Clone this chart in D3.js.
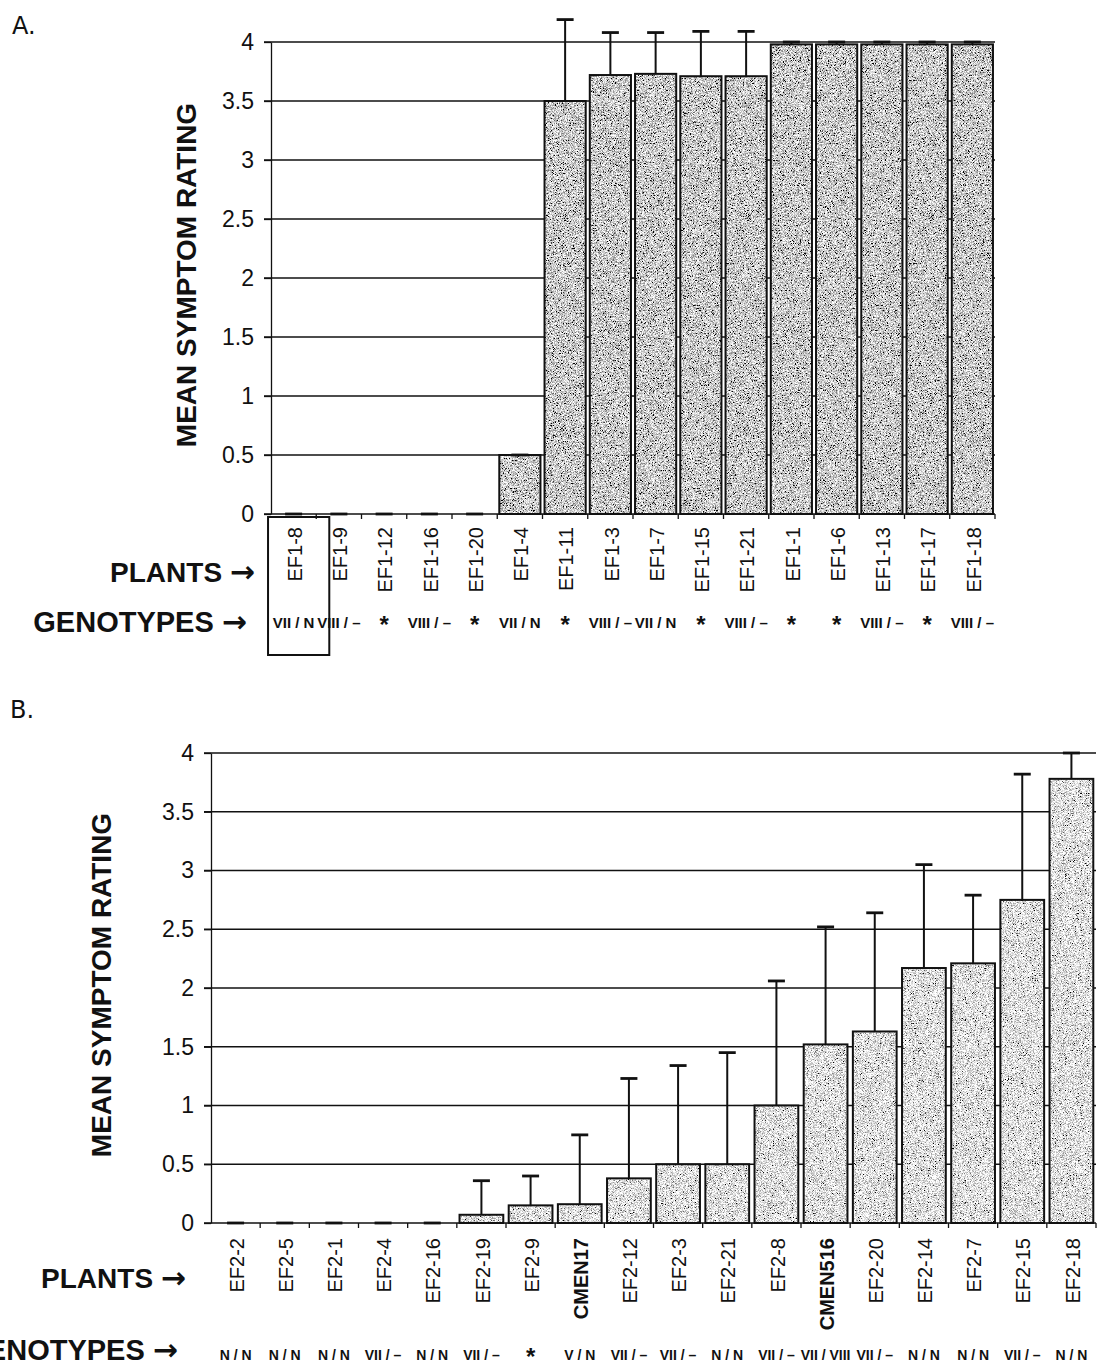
<!DOCTYPE html>
<html>
<head>
<meta charset="utf-8">
<script src="https://cdn.jsdelivr.net/npm/d3@7"></script>
<style>
  body { margin: 0; background: #fff; }
  svg { display: block; }
</style>
</head>
<body>
<script>
// Panel A data
const plantsA = ["EF1-8", "EF1-9", "EF1-12", "EF1-16", "EF1-20", "EF1-4", "EF1-11", "EF1-3",
    "EF1-7", "EF1-15", "EF1-21", "EF1-1", "EF1-6", "EF1-13", "EF1-17", "EF1-18"];
const genotypesA = ["VII / N", "VIII / \u2013", "*", "VIII / \u2013", "*", "VII / N", "*", "VIII / \u2013",
    "VII / N", "*", "VIII / \u2013", "*", "*", "VIII / \u2013", "*", "VIII / \u2013"];
const ratingA = [0, 0, 0, 0, 0, 0.5, 3.5, 3.72, 3.73, 3.71, 3.71, 3.98, 3.98, 3.98, 3.98, 3.98];
const errorA = [0, 0, 0, 0, 0, 0, 0.69, 0.36, 0.35, 0.38, 0.38, 0.02, 0.02, 0.02, 0.02, 0.02];

// Panel B data
const plantsB = ["EF2-2", "EF2-5", "EF2-1", "EF2-4", "EF2-16", "EF2-19", "EF2-9", "CMEN17", "EF2-12",
    "EF2-3", "EF2-21", "EF2-8", "CMEN516", "EF2-20", "EF2-14", "EF2-7", "EF2-15", "EF2-18"];
const controlsB = ["CMEN17", "CMEN516"];
const genotypesB = ["N / N", "N / N", "N / N", "VII / \u2013", "N / N", "VII / \u2013", "*", "V / N", "VII / \u2013",
    "VII / \u2013", "N / N", "VII / \u2013", "VII / VIII", "VII / \u2013", "N / N", "N / N", "VII / \u2013", "N / N"];
const ratingB = [0, 0, 0, 0, 0, 0.07, 0.15, 0.16, 0.38, 0.5, 0.5, 1.0, 1.52, 1.63, 2.17, 2.21, 2.75, 3.78];
const errorB = [0, 0, 0, 0, 0, 0.29, 0.25, 0.59, 0.85, 0.84, 0.95, 1.06, 1.0, 1.01, 0.88, 0.58, 1.07, 0.22];

// Shared y ticks
const yTicks = [0, 0.5, 1, 1.5, 2, 2.5, 3, 3.5, 4];

const font = "'Liberation Sans', Arial, sans-serif";

const svg = d3.select("body")
    .append("svg")
    .attr("width", 1107)
    .attr("height", 1371);

const defs = svg.append("defs");

// grainy grey fill like the printed bars (speckled black/white pixels)
function makeStipple(id, intercept, seed) {
    const filter = defs.append("filter")
        .attr("id", id)
        .attr("x", 0).attr("y", 0).attr("width", 1).attr("height", 1);
    filter.append("feTurbulence")
        .attr("type", "fractalNoise")
        .attr("baseFrequency", 1.4)
        .attr("numOctaves", 1)
        .attr("seed", seed)
        .attr("result", "noise");
    filter.append("feColorMatrix")
        .attr("in", "noise")
        .attr("type", "matrix")
        .attr("values", "0.33 0.33 0.33 0 0  0.33 0.33 0.33 0 0  0.33 0.33 0.33 0 0  0 0 0 0 1")
        .attr("result", "grey");
    const transfer = filter.append("feComponentTransfer")
        .attr("in", "grey")
        .attr("result", "contrast");
    ["feFuncR", "feFuncG", "feFuncB"].forEach(f => {
        transfer.append(f).attr("type", "linear").attr("slope", 5).attr("intercept", intercept);
    });
    filter.append("feComposite")
        .attr("in", "contrast")
        .attr("in2", "SourceGraphic")
        .attr("operator", "in");
}
makeStipple("stippleA", -1.88, 4);
makeStipple("stippleB", -1.72, 9);

function caption(g, x, y, size, label) {
    const t = g.append("text")
        .attr("x", x)
        .attr("y", y)
        .attr("text-anchor", "end")
        .attr("font-family", font)
        .attr("font-size", size)
        .attr("font-weight", "bold")
        .attr("fill", "#111");
    t.append("tspan").text(label + " ");
    t.append("tspan")
        .attr("font-family", "'DejaVu Sans', sans-serif")
        .attr("font-size", "30px")
        .text("\u2192");
}

function drawPanel(p) {
    const g = svg.append("g");

    const x = d3.scaleBand()
        .domain(p.plants)
        .range([p.left, p.right])
        .paddingInner(p.pad)
        .paddingOuter(p.pad / 2);

    const y = d3.scaleLinear()
        .domain([0, 4])
        .range([p.bottom, p.top]);

    // gridlines (including the 0 baseline)
    g.selectAll(".grid")
        .data(yTicks)
        .join("line")
        .attr("x1", p.left - 7)
        .attr("x2", p.right)
        .attr("y1", d => y(d))
        .attr("y2", d => y(d))
        .attr("stroke", "#111")
        .attr("stroke-width", 1.3);

    // y axis
    const yAxis = g.append("g")
        .attr("transform", `translate(${p.left},0)`)
        .call(d3.axisLeft(y)
            .tickValues(yTicks)
            .tickSize(7)
            .tickSizeOuter(0)
            .tickPadding(10)
            .tickFormat(d3.format("~g")));
    yAxis.select(".domain").attr("stroke", "#111").attr("stroke-width", 1.3);
    yAxis.selectAll(".tick line").attr("stroke", "#111").attr("stroke-width", 1.3);
    yAxis.selectAll(".tick text")
        .attr("font-family", font)
        .attr("font-size", "23px")
        .attr("fill", "#111");

    // small ticks on the category axis between bands
    const half = (x.step() - x.bandwidth()) / 2;
    g.selectAll(".xtick")
        .data(p.plants)
        .join("line")
        .attr("x1", d => x(d) + x.bandwidth() + half)
        .attr("x2", d => x(d) + x.bandwidth() + half)
        .attr("y1", y(0))
        .attr("y2", y(0) + 5)
        .attr("stroke", "#111")
        .attr("stroke-width", 1.3);

    // bars
    const bars = p.plants.map((d, i) => ({ plant: d, value: p.rating[i], err: p.error[i] }));
    g.selectAll(".bar")
        .data(bars.filter(d => d.value > 0))
        .join("rect")
        .attr("x", d => x(d.plant))
        .attr("width", x.bandwidth())
        .attr("y", d => y(d.value))
        .attr("height", d => y(0) - y(d.value))
        .attr("fill", "#999")
        .attr("filter", `url(#${p.stipple})`);
    g.selectAll(".bar-edge")
        .data(bars.filter(d => d.value > 0))
        .join("rect")
        .attr("x", d => x(d.plant))
        .attr("width", x.bandwidth())
        .attr("y", d => y(d.value))
        .attr("height", d => y(0) - y(d.value))
        .attr("fill", "none")
        .attr("stroke", "#111")
        .attr("stroke-width", 2);

    // error bars (upper only)
    const cx = d => x(d.plant) + x.bandwidth() / 2;
    g.selectAll(".err")
        .data(bars)
        .join("line")
        .attr("x1", cx)
        .attr("x2", cx)
        .attr("y1", d => y(d.value))
        .attr("y2", d => y(d.value + d.err))
        .attr("stroke", "#111")
        .attr("stroke-width", 2);
    g.selectAll(".cap")
        .data(bars)
        .join("line")
        .attr("x1", d => cx(d) - 8.5)
        .attr("x2", d => cx(d) + 8.5)
        .attr("y1", d => y(d.value + d.err))
        .attr("y2", d => y(d.value + d.err))
        .attr("stroke", "#111")
        .attr("stroke-width", 2.8);

    // plant names, rotated
    g.selectAll(".plant")
        .data(p.plants)
        .join("text")
        .attr("transform", d => `translate(${x(d) + x.bandwidth() / 2 + 1},${p.labelTop}) rotate(-90)`)
        .attr("text-anchor", "end")
        .attr("dy", "0.36em")
        .attr("font-family", font)
        .attr("font-size", "20px")
        .attr("font-weight", d => controlsB.includes(d) ? "bold" : "normal")
        .attr("fill", "#111")
        .text(d => d);

    // genotypes
    g.selectAll(".geno")
        .data(p.plants)
        .join("text")
        .attr("x", d => x(d) + x.bandwidth() / 2)
        .attr("y", (d, i) => p.genotypes[i] === "*" ? p.genoBase + 5 : p.genoBase)
        .attr("text-anchor", "middle")
        .attr("font-family", font)
        .attr("font-size", (d, i) => p.genotypes[i] === "*" ? "24px" : p.genoSize)
        .attr("font-weight", "bold")
        .attr("fill", "#111")
        .text((d, i) => p.genotypes[i]);

    // y axis title
    g.append("text")
        .attr("transform", `translate(${p.titleX},${p.titleY}) rotate(-90)`)
        .attr("text-anchor", "middle")
        .attr("dy", "0.36em")
        .attr("font-family", font)
        .attr("font-size", "28px")
        .attr("font-weight", "bold")
        .attr("fill", "#111")
        .text("MEAN SYMPTOM RATING");

    // row captions
    caption(g, p.plantsX, p.plantsBase, "28px", "PLANTS");
    caption(g, p.genoX, p.genoCaptionBase, "29px", "GENOTYPES");

    // panel letter
    g.append("text")
        .attr("x", p.letterX)
        .attr("y", p.letterY)
        .attr("font-family", "'DejaVu Sans', sans-serif")
        .attr("font-size", "24px")
        .attr("fill", "#111")
        .text(p.letter);

    return x;
}

const xA = drawPanel({
    plants: plantsA, genotypes: genotypesA, rating: ratingA, error: errorA,
    left: 271, right: 995, top: 42, bottom: 514, pad: 0.09, stipple: "stippleA",
    labelTop: 527, genoBase: 628, genoSize: "15px",
    titleX: 186, titleY: 275,
    plantsX: 255, plantsBase: 582, genoX: 247, genoCaptionBase: 632,
    letter: "A.", letterX: 12, letterY: 34
});

// frame around the first plant of panel A
svg.append("rect")
    .attr("x", xA(plantsA[0]) - 5)
    .attr("y", 517)
    .attr("width", xA.step() + 16)
    .attr("height", 138)
    .attr("fill", "none")
    .attr("stroke", "#111")
    .attr("stroke-width", 2);

drawPanel({
    plants: plantsB, genotypes: genotypesB, rating: ratingB, error: errorB,
    left: 211, right: 1096, top: 753, bottom: 1223, pad: 0.11, stipple: "stippleB",
    labelTop: 1238, genoBase: 1360, genoSize: "14px",
    titleX: 101, titleY: 985,
    plantsX: 186, plantsBase: 1288, genoX: 178, genoCaptionBase: 1360,
    letter: "B.", letterX: 10, letterY: 718
});
</script>
</body>
</html>
